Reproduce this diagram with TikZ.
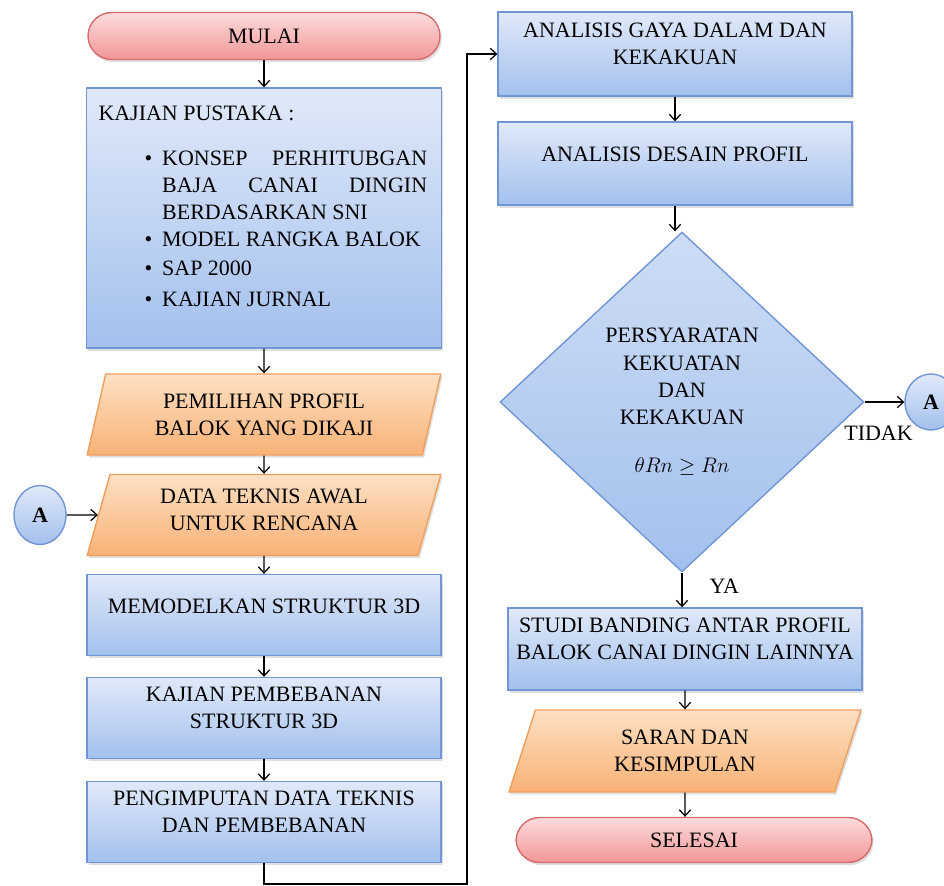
\documentclass[tikz,border=0pt]{standalone}
\usepackage{amsmath, amssymb}
\usepackage{fontspec}
\setmainfont{Liberation Serif}
\usepackage{xcolor}
\usepackage{tikz}
\usetikzlibrary{shapes, arrows, arrows.meta, calc, shadows}

\definecolor{boxtop}{RGB}{224,233,249}
\definecolor{boxbottom}{RGB}{163,192,237}
\definecolor{boxline}{RGB}{112,150,214}
\definecolor{datatop}{RGB}{253,224,196}
\definecolor{databottom}{RGB}{248,178,118}
\definecolor{dataline}{RGB}{240,158,92}
\definecolor{termtop}{RGB}{252,220,220}
\definecolor{termbottom}{RGB}{242,150,150}
\definecolor{termline}{RGB}{214,108,108}

\begin{document}
\begin{tikzpicture}%
	[x=0.02cm, y=-0.02cm,
	>={Straight Barb[length=3.5pt, width=6.5pt]},
	font=\fontsize{12.5}{15.5}\selectfont,
	flow/.style={->, black, line width=0.7pt},
	process/.style={rectangle, draw=boxline, line width=0.8pt, top color=boxtop, bottom color=boxbottom,
		minimum width=7.08cm, minimum height=1.62cm, align=center, inner sep=2pt,
		drop shadow={opacity=0.25, shadow xshift=1pt, shadow yshift=-1.5pt}},
	data/.style={trapezium, trapezium left angle=75, trapezium right angle=105, trapezium stretches=true,
		draw=dataline, line width=0.8pt, top color=datatop, bottom color=databottom,
		minimum width=7.08cm, minimum height=1.62cm, align=center, inner sep=2pt,
		drop shadow={opacity=0.25, shadow xshift=1pt, shadow yshift=-1.5pt}},
	terminal/.style={rectangle, rounded corners=0.47cm, draw=termline, line width=0.8pt,
		top color=termtop, bottom color=termbottom, minimum width=7.04cm, minimum height=0.94cm,
		drop shadow={opacity=0.25, shadow xshift=1pt, shadow yshift=-1.5pt}},
	decision/.style={diamond, draw=boxline, line width=0.8pt, top color=boxtop!70!boxbottom,
		bottom color=boxbottom, minimum width=7.28cm, minimum height=6.8cm, inner sep=0pt, align=center},
	connector/.style={ellipse, draw=boxline, line width=0.8pt, top color=boxtop, bottom color=boxbottom,
		minimum width=1.04cm, minimum height=1.18cm, inner sep=0pt, font=\fontsize{12.5}{15}\selectfont\bfseries}]
\useasboundingbox (0,0) rectangle (944,886);
%
%% Left column
%%
\node[terminal] (mulai) at (264,36) {MULAI};
\node[process, minimum height=5.2cm, inner xsep=0.24cm, align=left]
	(pustaka) at (264,218) {\parbox[c][4.98cm][t]{6.62cm}{\vspace*{7pt}KAJIAN PUSTAKA :\par\vspace{10pt}
	\begin{tabular}[t]{@{\hspace{0.92cm}}l@{\hspace{0.2cm}}p{5.3cm}@{}}
	\textbullet & KONSEP\hfill PERHITUBGAN\newline BAJA\hfill CANAI\hfill DINGIN\newline BERDASARKAN SNI\\
	\textbullet & MODEL RANGKA BALOK\\[1pt]
	\textbullet & SAP 2000\\[2pt]
	\textbullet & KAJIAN JURNAL
	\end{tabular}}};
\node[data] (pemilihan) at (264,414.5) {PEMILIHAN PROFIL\\BALOK YANG DIKAJI};
\node[data, text depth=6pt] (teknis) at (264,515) {DATA TEKNIS AWAL\\UNTUK RENCANA};
\node[connector] (konA) at (40,515) {A};
\node[process, text depth=10pt] (model) at (264,615) {MEMODELKAN STRUKTUR 3D};
\node[process, text depth=12pt] (beban) at (264,718) {KAJIAN PEMBEBANAN\\STRUKTUR 3D};
\node[process, text depth=12pt] (imput) at (264,822) {PENGIMPUTAN DATA TEKNIS\\DAN PEMBEBANAN};
\coordinate (belok) at (467,884);
%%
%% Right column
%%
\node[process, minimum height=1.68cm, text depth=12pt] (gaya) at (675,54) {ANALISIS GAYA DALAM DAN\\KEKAKUAN};
\node[process, minimum height=1.66cm, text depth=10pt] (desain) at (675,163.5) {ANALISIS DESAIN PROFIL};
\node[decision] (syarat) at (682,402) {PERSYARATAN\\KEKUATAN\\DAN\\KEKAKUAN\\[12pt]$\theta Rn \geq Rn$};
\node[connector, minimum height=1.12cm] (konA2) at (931,402) {A};
\node[process, minimum height=1.64cm, text depth=12pt] (studi) at (685,649) {STUDI BANDING ANTAR PROFIL\\BALOK CANAI DINGIN LAINNYA};
\node[data, minimum height=1.64cm] (saran) at (685,751) {SARAN DAN\\KESIMPULAN};
\node[terminal, minimum width=7.12cm, minimum height=0.9cm] (selesai) at (694,840) {SELESAI};
%%
%% Connectors
%%
\draw[flow] (mulai) -- (pustaka);
\draw[flow] (pustaka) -- (pemilihan);
\draw[flow] (pemilihan) -- (teknis);
\draw[flow] (konA) -- (teknis);
\draw[flow] (teknis) -- (model);
\draw[flow] (model) -- (beban);
\draw[flow] (beban) -- (imput);
\draw[flow] (imput.south) |- (belok) |- (gaya.west);
\draw[flow] (gaya) -- (desain);
\draw[flow] (desain.south) -- (desain.south |- syarat.north);
\draw[flow] (syarat.east) -- (konA2.west) node[pos=0.35, below=10pt] (tidak) {TIDAK};
\draw[flow] (syarat.south) -- (syarat.south |- studi.north) node[pos=0.4, right=12pt] (ya) {YA};
\draw[flow] (studi) -- (saran);
\draw[flow] (saran) -- (selesai.north -| saran);
%%
\end{tikzpicture}
\end{document}
